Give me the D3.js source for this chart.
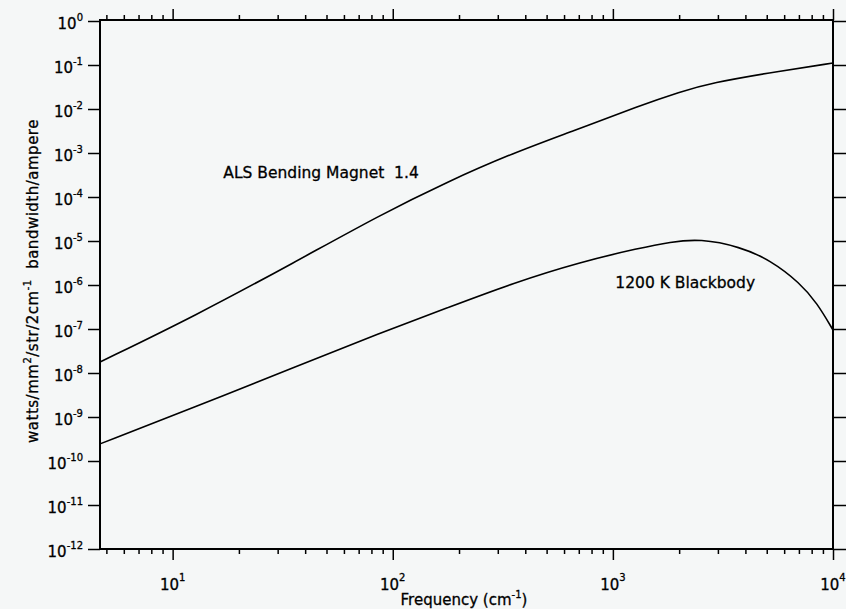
<!DOCTYPE html>
<html>
<head>
<meta charset="utf-8">
<script src="https://cdn.jsdelivr.net/npm/d3@7"></script>
<style>
  html, body { margin: 0; padding: 0; background: #f5f7f7; }
  svg { display: block; font-family: 'DejaVu Sans', sans-serif; }
  text { fill: #000; stroke: #000; stroke-width: 0.3px; }
</style>
</head>
<body>
<svg id="chart" width="846" height="609"></svg>
<script>
// frequency (cm^-1) and intensity
const bendFreq = [4.68, 12.6, 36, 87.5, 176, 352, 659, 1328, 2018, 2762, 5741, 10000];
const bendValue = [1.78e-8, 1.97e-7, 3.33e-6, 3.9e-5, 2.19e-4, 1.0e-3, 3.16e-3, 0.012, 0.0243, 0.039, 0.073, 0.111];

const bbFreq = [4.68, 12.6, 36, 87.5, 176, 352, 709, 1328, 1820, 2490, 3780, 5180, 7080, 8460, 10000];
const bbValue = [2.45e-10, 1.69e-9, 1.37e-8, 8.1e-8, 3.0e-7, 1.11e-6, 3.33e-6, 6.93e-6, 9.5e-6, 1.13e-5, 7.4e-6, 3.7e-6, 1.11e-6, 3.9e-7, 9.5e-8];

const xDecades = [1, 2, 3, 4];
const yDecades = [0, -1, -2, -3, -4, -5, -6, -7, -8, -9, -10, -11, -12];

const labels = [
  { text: 'ALS Bending Magnet  1.4', f: 17, v: 2.7e-4 },
  { text: '1200 K Blackbody', f: 1026, v: 8.5e-7 },
];

const svg = d3.select('#chart');
const margin = { top: 20, right: 13, bottom: 60, left: 100 };
const width = +svg.attr('width');
const height = +svg.attr('height');

const x = d3.scaleLog()
  .domain([Math.pow(10, 0.67), 1e4])
  .range([margin.left, width - margin.right]);
const y = d3.scaleLog()
  .domain([1e-12, 1])
  .range([height - margin.bottom, margin.top + 1]);

const isDecade = d => Math.abs(Math.log10(d) - Math.round(Math.log10(d))) < 1e-9;
const minorX = x.ticks().filter(d => !isDecade(d));
const majorX = xDecades.map(p => Math.pow(10, p));
const majorY = yDecades.map(p => Math.pow(10, p));

const axisStyle = (g) => {
  g.select('.domain').remove();
  g.selectAll('.tick line').attr('stroke', '#000').attr('stroke-width', 1.5);
  g.selectAll('.tick text').remove();
};

const y0 = height - margin.bottom;
const x1 = width - margin.right;

// bottom
svg.append('g').attr('transform', `translate(0,${y0})`)
  .call(d3.axisBottom(x).tickValues(minorX).tickSize(5)).call(axisStyle);
svg.append('g').attr('transform', `translate(0,${y0})`)
  .call(d3.axisBottom(x).tickValues(majorX).tickSize(11)).call(axisStyle);
// top
svg.append('g').attr('transform', `translate(0,${margin.top})`)
  .call(d3.axisTop(x).tickValues(minorX).tickSize(5)).call(axisStyle);
svg.append('g').attr('transform', `translate(0,${margin.top})`)
  .call(d3.axisTop(x).tickValues(majorX).tickSize(11)).call(axisStyle);
// left / right
svg.append('g').attr('transform', `translate(${margin.left},0)`)
  .call(d3.axisLeft(y).tickValues(majorY).tickSize(12)).call(axisStyle);
svg.append('g').attr('transform', `translate(${x1},0)`)
  .call(d3.axisRight(y).tickValues(majorY).tickSize(13)).call(axisStyle);

// frame
svg.append('rect')
  .attr('x', margin.left).attr('y', margin.top)
  .attr('width', x1 - margin.left).attr('height', y0 - margin.top)
  .attr('fill', 'none').attr('stroke', '#000').attr('stroke-width', 2);

// tick labels
svg.append('g').selectAll('text')
  .data(yDecades)
  .join('text')
  .attr('x', margin.left - 17)
  .attr('y', d => y(Math.pow(10, d)) + 8)
  .attr('text-anchor', 'end')
  .attr('font-size', 15)
  .each(function (d) {
    const t = d3.select(this);
    t.append('tspan').text('10');
    t.append('tspan').attr('dy', -8).attr('font-size', 10).text(d === 0 ? '0' : '-' + (-d));
  });

svg.append('g').selectAll('text')
  .data(xDecades)
  .join('text')
  .attr('x', d => x(Math.pow(10, d)))
  .attr('y', y0 + 41)
  .attr('text-anchor', 'middle')
  .attr('font-size', 15)
  .each(function (d) {
    const t = d3.select(this);
    t.append('tspan').text('10');
    t.append('tspan').attr('dy', -9).attr('font-size', 10).text(d);
  });

// axis titles
const xt = svg.append('text')
  .attr('x', 464).attr('y', 605)
  .attr('text-anchor', 'middle').attr('font-size', 15);
xt.append('tspan').text('Frequency (cm');
xt.append('tspan').attr('dy', -7).attr('font-size', 10).text('-1');
xt.append('tspan').attr('dy', 7).text(')');

const yt = svg.append('text')
  .attr('transform', 'translate(38,281) rotate(-90)')
  .attr('text-anchor', 'middle').attr('font-size', 15)
  .attr('letter-spacing', 0.5)
  .style('white-space', 'pre');
yt.append('tspan').text('watts/mm');
yt.append('tspan').attr('dy', -7).attr('font-size', 10).text('2');
yt.append('tspan').attr('dy', 7).text('/str/2cm');
yt.append('tspan').attr('dy', -7).attr('font-size', 10).text('-1');
yt.append('tspan').attr('dy', 7).text('  bandwidth/ampere');

// curves
const line = d3.line()
  .x(d => x(d[0]))
  .y(d => y(d[1]))
  .curve(d3.curveBasis);

[[bendFreq, bendValue], [bbFreq, bbValue]].forEach(([fs, vs]) => {
  svg.append('path')
    .datum(fs.map((f, i) => [f, vs[i]]))
    .attr('d', line)
    .attr('fill', 'none')
    .attr('stroke', '#000')
    .attr('stroke-width', 1.6);
});

svg.append('g').selectAll('text')
  .data(labels)
  .join('text')
  .attr('x', d => x(d.f))
  .attr('y', d => y(d.v))
  .attr('font-size', 15.5)
  .style('white-space', 'pre')
  .text(d => d.text);
</script>
</body>
</html>
